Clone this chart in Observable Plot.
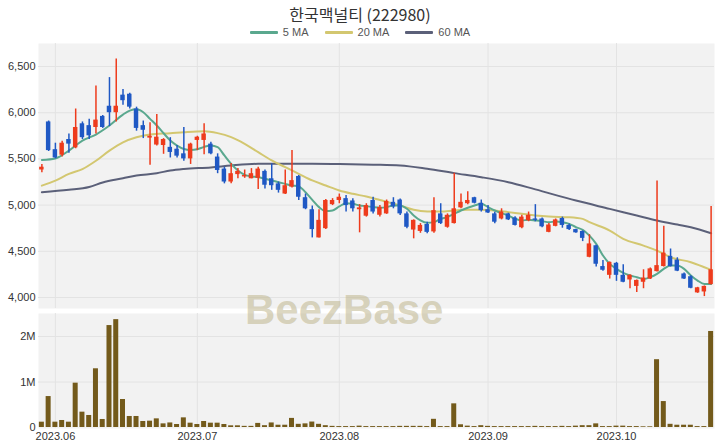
<!DOCTYPE html>
<html><head><meta charset="utf-8">
<script src="https://cdn.jsdelivr.net/npm/d3@7"></script>
<script src="https://cdn.jsdelivr.net/npm/@observablehq/plot@0.6"></script>
<style>
body{margin:0;background:#fff;width:720px;height:448px;position:relative;overflow:hidden;font-family:"Liberation Sans","Noto Sans CJK KR",sans-serif}
#title{position:absolute;left:0;top:4px;width:720px;text-align:center;font-size:16px;color:#333;font-family:"Noto Sans CJK KR","Noto Sans",sans-serif;line-height:20px}
#legend{position:absolute;left:0;top:25px;width:720px;display:flex;justify-content:center;align-items:center;font-size:11px;color:#555;line-height:14px}
.item{display:flex;align-items:center;margin:0 8px}
.sw{width:28px;height:3px;margin-right:5px;border-radius:1px}
#price{position:absolute;left:0;top:43px}
#vol{position:absolute;left:0;top:309px}
#wm{position:absolute;left:245px;top:289px;font:bold 42px "Liberation Sans",sans-serif;line-height:42px;color:rgba(190,180,140,.55);pointer-events:none;white-space:nowrap}
</style></head>
<body>
<div id="title">한국맥널티 (222980)</div>
<div id="legend"></div>
<div id="price"></div>
<div id="vol"></div>
<div id="wm">BeezBase</div>
<script>
const dates = ["2023-05-30","2023-05-31",
"2023-06-01","2023-06-02","2023-06-05","2023-06-07","2023-06-08","2023-06-09","2023-06-12","2023-06-13","2023-06-14","2023-06-15","2023-06-16","2023-06-19","2023-06-20","2023-06-21","2023-06-22","2023-06-23","2023-06-26","2023-06-27","2023-06-28","2023-06-29","2023-06-30",
"2023-07-03","2023-07-04","2023-07-05","2023-07-06","2023-07-07","2023-07-10","2023-07-11","2023-07-12","2023-07-13","2023-07-14","2023-07-17","2023-07-18","2023-07-19","2023-07-20","2023-07-21","2023-07-24","2023-07-25","2023-07-26","2023-07-27","2023-07-28","2023-07-31",
"2023-08-01","2023-08-02","2023-08-03","2023-08-04","2023-08-07","2023-08-08","2023-08-09","2023-08-10","2023-08-11","2023-08-14","2023-08-16","2023-08-17","2023-08-18","2023-08-21","2023-08-22","2023-08-23","2023-08-24","2023-08-25","2023-08-28","2023-08-29","2023-08-30","2023-08-31",
"2023-09-01","2023-09-04","2023-09-05","2023-09-06","2023-09-07","2023-09-08","2023-09-11","2023-09-12","2023-09-13","2023-09-14","2023-09-15","2023-09-18","2023-09-19","2023-09-20","2023-09-21","2023-09-22","2023-09-25","2023-09-26","2023-09-27",
"2023-10-04","2023-10-05","2023-10-06","2023-10-10","2023-10-11","2023-10-12","2023-10-13","2023-10-16","2023-10-17","2023-10-18","2023-10-19","2023-10-20","2023-10-23","2023-10-24","2023-10-25"];

const open  = [5380,5900,5600,5540,5710,5620,5880,5860,5840,5960,6070,6000,6190,6200,6040,5860,5725,5650,5645,5625,5605,5555,5500,5700,5700,5660,5520,5390,5250,5330,5305,5285,5290,5365,5285,5230,5120,5195,5310,5080,4950,4645,4745,5005,5050,5070,5045,4950,4880,5050,4890,4905,5030,5055,4905,4730,4715,4790,4710,4905,4760,4800,4970,5015,5080,5020,4950,4905,4850,4905,4860,4755,4830,4850,4850,4705,4770,4855,4780,4735,4715,4435,4560,4335,4240,4370,4240,4190,4120,4165,4200,4280,4335,4445,4405,4255,4225,4050,4060,4140];
const high  = [5440,5910,5670,5690,5770,6040,5900,5930,6290,5970,6380,6580,6250,6210,6060,5910,5890,5980,5720,5730,5645,5840,5670,5745,5880,5680,5555,5410,5450,5395,5380,5395,5410,5380,5445,5250,5380,5590,5320,5120,4990,4950,5060,5070,5120,5105,5070,5005,5015,5085,4995,5055,5080,5067,4925,4840,4800,4815,5080,5015,4905,5345,5120,5145,5085,5055,4995,4923,4960,4912,4875,4890,4925,5005,4860,4800,4850,4870,4795,4740,4720,4680,4565,4400,4385,4380,4355,4245,4190,4300,4320,5260,4770,4525,4430,4265,4235,4110,4125,4985];
const low   = [5350,5580,5500,5520,5560,5610,5710,5710,5770,5830,5850,5900,6080,6040,5800,5720,5430,5640,5550,5510,5510,5475,5440,5590,5545,5545,5340,5230,5230,5285,5290,5285,5170,5175,5160,5130,5115,5185,5050,4950,4645,4645,4735,4995,5015,4925,4925,4700,4870,4905,4870,4900,4960,4887,4745,4635,4695,4690,4695,4790,4750,4795,4960,5005,5013,4925,4910,4797,4840,4833,4775,4745,4820,4820,4755,4700,4765,4750,4725,4695,4605,4430,4330,4285,4200,4175,4160,4095,4055,4095,4195,4275,4330,4330,4280,4195,4095,4045,4010,4135];
const close = [5410,5590,5510,5670,5660,5840,5730,5750,5920,5840,6000,6070,6130,6060,5830,5810,5745,5735,5710,5570,5530,5500,5660,5735,5770,5555,5375,5250,5340,5365,5320,5340,5390,5215,5210,5160,5210,5265,5085,4960,4735,4835,5050,5050,5085,4995,4960,4970,4995,4925,4975,5040,4980,4905,4760,4835,4780,4705,4940,4800,4890,4960,5030,5050,5020,4940,4915,4815,4925,4840,4780,4870,4890,4835,4765,4785,4840,4780,4735,4700,4640,4580,4360,4295,4380,4240,4165,4240,4185,4210,4310,4345,4480,4335,4285,4200,4100,4105,4120,4300];
const volume = [117000,680000,117000,154000,117000,974000,337000,264000,1290000,176000,2240000,2370000,615000,242000,242000,132000,139000,190000,80000,100000,66000,212000,95000,66000,132000,95000,95000,66000,37000,37000,25000,25000,90000,40000,100000,50000,50000,200000,70000,80000,120000,70000,40000,25000,20000,20000,20000,30000,20000,20000,20000,20000,20000,25000,25000,25000,25000,20000,180000,20000,20000,520000,60000,30000,20000,40000,25000,20000,20000,20000,20000,20000,20000,25000,20000,20000,20000,25000,20000,30000,40000,40000,80000,20000,20000,30000,30000,20000,20000,15000,15000,1490000,570000,70000,50000,50000,50000,20000,20000,2110000];

// moving averages (candle index, value)
const ma5Idx = [0,2,4,6,8,10,12,13,14,15,16,17,18,19,20,21,22,23,24,25,26,27,28,29,30,31,32,33,34,35,36,37,38,39,40,41,42,43,44,45,46,47,48,49,50,51,52,53,54,55,56,57,58,59,60,61,62,63,64,65,66,67,68,69,70,71,72,73,74,75,76,77,78,79,80,81,82,83,84,85,86,87,88,89,90,91,92,93,94,95,96,97,98,99];
const ma5Val = [5489,5505,5590,5699,5764,5861,5980,6023,6038,6005,5933,5861,5778,5699,5644,5608,5597,5605,5630,5645,5627,5537,5447,5375,5328,5310,5303,5285,5267,5248,5230,5212,5202,5140,5057,4978,4935,4942,4985,5021,5014,4996,4989,4978,4971,4978,4996,4996,4960,4888,4834,4808,4816,4852,4870,4906,4942,4971,4996,5014,4978,4942,4913,4888,4852,4834,4841,4834,4826,4815,4822,4815,4797,4761,4732,4670,4580,4454,4364,4310,4266,4238,4220,4201,4220,4256,4310,4346,4346,4310,4238,4183,4147,4147];
const ma20Idx = [0,2,4,6,8,10,12,14,16,19,21,24,26,28,30,32,34,36,38,40,42,44,46,48,50,53,55,57,59,61,63,65,67,69,71,73,75,78,80,81,84,86,89,91,93,96,98,99];
const ma20Val = [5211,5265,5338,5390,5480,5590,5680,5735,5764,5778,5789,5800,5779,5735,5663,5573,5483,5411,5339,5267,5212,5158,5122,5093,5055,4996,4949,4931,4931,4942,4949,4949,4942,4924,4906,4888,4876,4869,4851,4815,4725,4634,4562,4508,4436,4382,4328,4299];
const ma60Idx = [0,4,7,9,12,14,17,19,21,25,28,32,36,40,44,49,53,57,61,65,69,73,79,84,88,91,94,96,99];
const ma60Val = [5140,5165,5195,5245,5290,5320,5345,5375,5392,5408,5429,5447,5447,5447,5445,5438,5429,5393,5346,5302,5248,5170,5049,4959,4887,4833,4789,4761,4696];

const tickLabels = ["2023.06","2023.07","2023.08","2023.09","2023.10"];
const priceTicks = [4000,4500,5000,5500,6000,6500];
const volTicks = [0,1000000,2000000];

const UP = "#ee3b1c", DOWN = "#1f58c4", FLAT = "#888888";
const C5 = "#5aa88e", C20 = "#d3c770", C60 = "#5b6079";
const BG = "#f2f2f2", GRID = "#e3e3e3";

// legend
const legend = document.getElementById("legend");
[["5 MA",C5],["20 MA",C20],["60 MA",C60]].forEach(([t,c])=>{
  const it=document.createElement("div");it.className="item";
  it.innerHTML=`<span class="sw" style="background:${c}"></span><span>${t}</span>`;
  legend.appendChild(it);
});

const candles = dates.map((d,i)=>({i,date:d,open:open[i],high:high[i],low:low[i],close:close[i],volume:volume[i]}));
const col = d => d.close>d.open?UP:d.close<d.open?DOWN:FLAT;
const tickIdx = tickLabels.map(t=>dates.findIndex(d=>d.startsWith(t.replace(".","-"))));
const pts = (I,V)=>I.map((x,k)=>({x,y:V[k]}));

const xDom = [-0.5, dates.length-0.5];
const style = {fontSize:"11px",color:"#333",fontFamily:"'Liberation Sans',sans-serif",background:"transparent"};

const price = Plot.plot({
  width:720,height:267,marginLeft:38,marginRight:6,marginTop:0,marginBottom:2,
  style,
  x:{domain:xDom,axis:null},
  y:{domain:[3881,6749],ticks:priceTicks,tickFormat:d3.format(","),tickSize:0,tickPadding:3,label:null},
  marks:[
    Plot.frame({fill:BG,stroke:null}),
    Plot.ruleY(priceTicks,{stroke:GRID,strokeWidth:1}),
    Plot.ruleX(tickIdx,{stroke:GRID,strokeWidth:1}),
    Plot.line(pts(ma60Idx,ma60Val),{x:"x",y:"y",stroke:C60,strokeWidth:2,curve:"monotone-x"}),
    Plot.line(pts(ma20Idx,ma20Val),{x:"x",y:"y",stroke:C20,strokeWidth:2,curve:"monotone-x"}),
    Plot.line(pts(ma5Idx,ma5Val),{x:"x",y:"y",stroke:C5,strokeWidth:2,curve:"monotone-x"}),
    Plot.ruleX(candles,{x:"i",y1:"low",y2:"high",stroke:col,strokeWidth:1.5}),
    Plot.rect(candles,{x1:d=>d.i-0.33,x2:d=>d.i+0.33,y1:"open",y2:"close",fill:col})
  ]
});
document.getElementById("price").appendChild(price);

const vol = Plot.plot({
  width:720,height:139,marginLeft:38,marginRight:6,marginTop:4,marginBottom:20,
  style,
  x:{domain:xDom,ticks:tickIdx,tickFormat:i=>tickLabels[tickIdx.indexOf(i)],tickSize:0,tickPadding:4,label:null},
  y:{domain:[-22000,2505000],ticks:volTicks,tickFormat:v=>v===0?"0":(v/1e6)+"M",tickSize:0,tickPadding:3,label:null},
  marks:[
    Plot.frame({fill:BG,stroke:null}),
    Plot.ruleY(volTicks.slice(1),{stroke:GRID,strokeWidth:1}),
    Plot.ruleX(tickIdx,{stroke:GRID,strokeWidth:1}),
    Plot.rect(candles,{x1:d=>d.i-0.37,x2:d=>d.i+0.37,y1:0,y2:"volume",fill:"#735a1b"})
  ]
});
document.getElementById("vol").appendChild(vol);
</script>
</body></html>
